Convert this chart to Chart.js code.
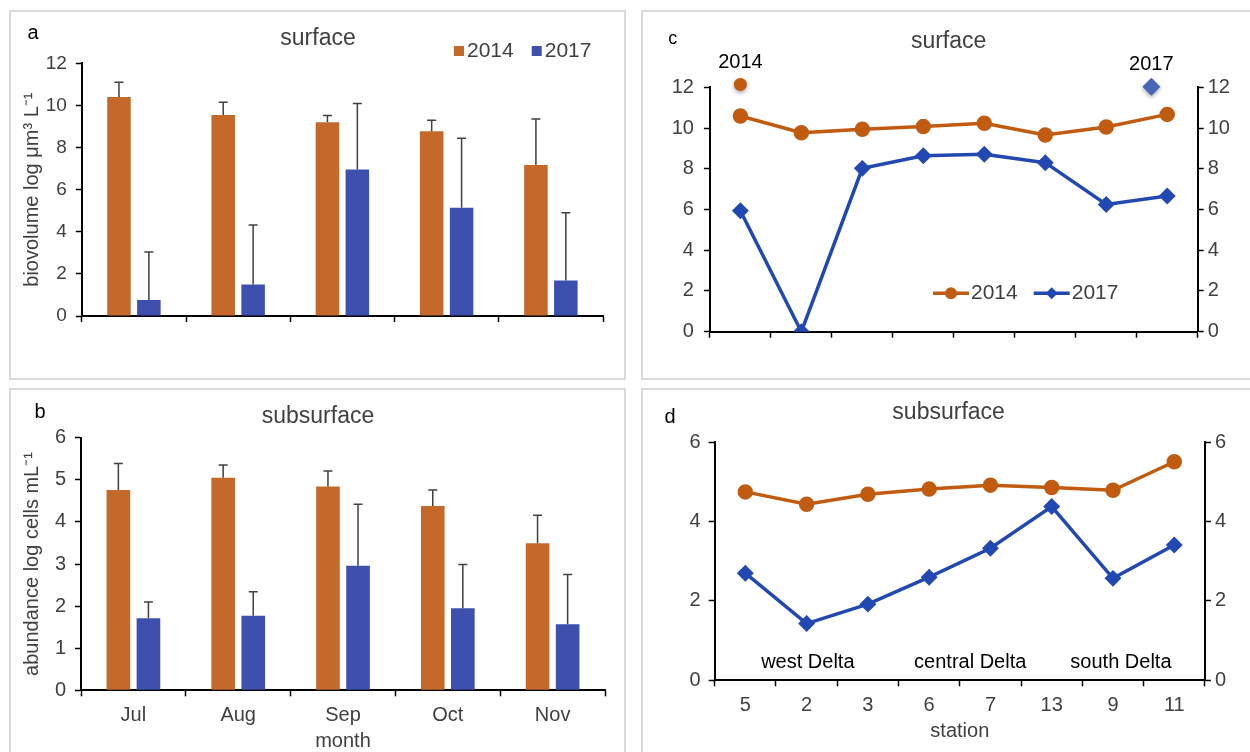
<!DOCTYPE html>
<html>
<head>
<meta charset="utf-8">
<script src="https://cdn.jsdelivr.net/npm/chart.js@4.4.1/dist/chart.umd.min.js"></script>
<style>
  html, body { margin:0; padding:0; background:#fff; width:1250px; height:752px; overflow:hidden; }
  .panel { position:absolute; }
  .panel canvas { position:absolute; left:0; top:0; }
  .frame { position:absolute; left:0; top:0; right:0; bottom:0; border:2px solid #dadada; box-sizing:border-box; pointer-events:none; }
</style>
</head>
<body>
<div class="panel" style="left:9px;top:10px;width:617px;height:370px"><canvas id="ca" width="617" height="370"></canvas><div class="frame"></div></div>
<div class="panel" style="left:641px;top:10px;width:612px;height:370px"><canvas id="cc" width="612" height="370"></canvas><div class="frame"></div></div>
<div class="panel" style="left:9px;top:388px;width:617px;height:368px"><canvas id="cb" width="617" height="368"></canvas><div class="frame"></div></div>
<div class="panel" style="left:641px;top:388px;width:612px;height:368px"><canvas id="cd" width="612" height="368"></canvas><div class="frame"></div></div>
<script>
// ---- data ----
const months = ['Jul', 'Aug', 'Sep', 'Oct', 'Nov'];
const stations = ['5', '2', '3', '6', '7', '13', '9', '11'];
const years = ['2014', '2017'];

// a: surface biovolume by month (mean, upper error)
const bioSurf2014 = [10.4, 9.55, 9.2, 8.77, 7.17];
const bioSurf2014Err = [0.7, 0.6, 0.32, 0.53, 2.18];
const bioSurf2017 = [0.76, 1.5, 6.96, 5.14, 1.69];
const bioSurf2017Err = [2.28, 2.82, 3.13, 3.3, 3.21];

// b: subsurface abundance by month
const abSub2014 = [4.76, 5.05, 4.84, 4.38, 3.49];
const abSub2014Err = [0.63, 0.3, 0.37, 0.38, 0.67];
const abSub2017 = [1.71, 1.77, 2.96, 1.95, 1.57];
const abSub2017Err = [0.39, 0.57, 1.46, 1.04, 1.18];

// c: surface by station
const stSurf2014 = [10.59, 9.77, 9.94, 10.07, 10.23, 9.66, 10.05, 10.67];
const stSurf2017 = [5.94, 0, 8.02, 8.64, 8.71, 8.3, 6.25, 6.66];
// year markers drawn above the plot in c (station index, value)
const yearMarks = [{ year: '2014', station: 0, value: 12.14 }, { year: '2017', station: 6.74, value: 12.03 }];

// d: subsurface by station
const stSub2014 = [4.75, 4.44, 4.69, 4.82, 4.92, 4.86, 4.79, 5.51];
const stSub2017 = [2.7, 1.43, 1.92, 2.6, 3.33, 4.38, 2.57, 3.41];
const regionNames = ['west Delta', 'central Delta', 'south Delta'];
const regionAt = [1.02, 3.67, 6.13];
const regionValue = 0.45;

// ---- styling ----
const FAM = '"Liberation Sans", Arial, sans-serif';
Chart.defaults.font.family = FAM;
const BAR_OR = '#c4692a', BAR_BL = '#3d50ae';
const LINE_OR = '#c05b10', LINE_BL = '#2249b2';
const TXT = '#404040';

function diamond(ctx, x, y, r) {
  ctx.beginPath();
  ctx.moveTo(x, y - r); ctx.lineTo(x + r, y); ctx.lineTo(x, y + r); ctx.lineTo(x - r, y);
  ctx.closePath(); ctx.fill();
}
function circle(ctx, x, y, r) {
  ctx.beginPath(); ctx.arc(x, y, r, 0, Math.PI * 2); ctx.fill();
}

const decor = {
  id: 'decor',
  afterDatasetsDraw(chart) {
    const ctx = chart.ctx;
    chart.data.datasets.forEach((ds, i) => {
      if (!ds.errorBars) return;
      const meta = chart.getDatasetMeta(i);
      const ys = chart.scales[meta.yAxisID];
      ctx.save();
      ctx.strokeStyle = '#404040'; ctx.lineWidth = 1.5;
      meta.data.forEach((bar, j) => {
        const top = ys.getPixelForValue(ds.data[j] + ds.errorBars[j]);
        ctx.beginPath();
        ctx.moveTo(bar.x, bar.y); ctx.lineTo(bar.x, top);
        ctx.moveTo(bar.x - 4.5, top); ctx.lineTo(bar.x + 4.5, top);
        ctx.stroke();
      });
      ctx.restore();
    });
  },
  afterDraw(chart, args, o) {
    const ctx = chart.ctx;
    ctx.save();
    ctx.textBaseline = 'middle';
    (o.texts || []).forEach(t => {
      ctx.font = `${t.size}px ${FAM}`;
      ctx.fillStyle = t.color || TXT;
      ctx.textAlign = t.align || 'center';
      ctx.fillText(t.text, t.x, t.y);
    });
    // legend
    if (o.legend) {
      const L = o.legend;
      let x = L.x;
      ctx.font = `${L.size}px ${FAM}`;
      ctx.textAlign = 'left';
      chart.data.datasets.forEach(ds => {
        const col = ds.backgroundColor;
        if (L.type === 'box') {
          ctx.fillStyle = col;
          ctx.fillRect(x, L.y - 5, 10, 10);
          x += 13;
        } else {
          ctx.strokeStyle = ds.borderColor; ctx.lineWidth = 3.5;
          ctx.beginPath(); ctx.moveTo(x, L.y); ctx.lineTo(x + 36, L.y); ctx.stroke();
          ctx.fillStyle = ds.pointBackgroundColor;
          if (ds.pointStyle === 'rectRot') diamond(ctx, x + 18, L.y, 6); else circle(ctx, x + 18, L.y, 6);
          x += 38;
        }
        ctx.fillStyle = TXT;
        ctx.fillText(ds.label, x, L.y);
        x += ctx.measureText(ds.label).width + L.gap;
      });
    }
    // year markers (panel c)
    if (o.yearMarks) {
      const xs = chart.scales.x, ys = chart.scales.y;
      o.yearMarks.forEach((m, k) => {
        const px = xs.getPixelForValue(m.station), py = ys.getPixelForValue(m.value);
        ctx.save();
        ctx.shadowColor = 'rgba(0,0,0,0.35)'; ctx.shadowBlur = 4; ctx.shadowOffsetY = 2;
        ctx.fillStyle = k === 0 ? '#c05b10' : '#4767b6';
        if (k === 0) circle(ctx, px, py, 6.5); else diamond(ctx, px, py, 9);
        ctx.restore();
        ctx.font = `20px ${FAM}`; ctx.fillStyle = '#000'; ctx.textAlign = 'center';
        ctx.fillText(m.year, px, py - 22);
      });
    }
    // region labels (panel d)
    if (o.regions) {
      const xs = chart.scales.x, ys = chart.scales.y;
      ctx.font = `20px ${FAM}`; ctx.fillStyle = '#000'; ctx.textAlign = 'center';
      regionNames.forEach((n, i) => ctx.fillText(n, xs.getPixelForValue(regionAt[i]), ys.getPixelForValue(regionValue)));
    }
    ctx.restore();
  }
};

function yAxis(max, step, size, pad, width, extra) {
  return Object.assign({
    min: 0, max: max,
    ticks: { stepSize: step, font: { size: size }, color: TXT, padding: pad },
    grid: { drawOnChartArea: false, tickLength: 6, tickColor: '#000', tickWidth: 1.5 },
    border: { color: '#000', width: 2 },
    afterFit: s => { s.width = width; }
  }, extra || {});
}
function xAxis(height, showTicks, title) {
  return {
    offset: true,
    ticks: { display: showTicks, font: { size: 20 }, color: TXT, padding: 7, maxRotation: 0 },
    grid: { drawOnChartArea: false, tickLength: 6, tickColor: '#000', tickWidth: 1.5, offset: true },
    border: { color: '#000', width: 2 },
    title: title ? { display: true, text: title, font: { size: 20 }, color: TXT, padding: { top: 4, bottom: 0 } } : { display: false },
    afterFit: s => { s.height = height; }
  };
}
const base = { responsive: false, animation: false, events: [] };

// a
new Chart(document.getElementById('ca'), {
  type: 'bar',
  data: { labels: months, datasets: [
    { label: years[0], data: bioSurf2014, errorBars: bioSurf2014Err, backgroundColor: BAR_OR },
    { label: years[1], data: bioSurf2017, errorBars: bioSurf2017Err, backgroundColor: BAR_BL }
  ] },
  options: Object.assign({}, base, {
    layout: { padding: { left: 7.6, top: 53.3, right: 23, bottom: 24 } },
    datasets: { bar: { categoryPercentage: 0.574, barPercentage: 0.786 } },
    plugins: { legend: { display: false }, tooltip: { enabled: false },
      decor: {
        texts: [{ text: 'a', x: 24, y: 23.5, size: 20, color: '#000' }, { text: 'surface', x: 309, y: 29, size: 23 }],
        legend: { type: 'box', x: 445, y: 41, size: 21, gap: 18 }
      } },
    scales: {
      x: xAxis(40, false),
      y: yAxis(12, 2, 19, 9, 65.2, { title: { display: true, text: 'biovolume log μm³ L⁻¹', font: { size: 20 }, color: TXT } })
    }
  }),
  plugins: [decor]
});

// b
new Chart(document.getElementById('cb'), {
  type: 'bar',
  data: { labels: months, datasets: [
    { label: years[0], data: abSub2014, errorBars: abSub2014Err, backgroundColor: BAR_OR },
    { label: years[1], data: abSub2017, errorBars: abSub2017Err, backgroundColor: BAR_BL }
  ] },
  options: Object.assign({}, base, {
    layout: { padding: { left: 7.6, top: 49.7, right: 21, bottom: 2.3 } },
    datasets: { bar: { categoryPercentage: 0.574, barPercentage: 0.786 } },
    plugins: { legend: { display: false }, tooltip: { enabled: false },
      decor: { texts: [{ text: 'b', x: 31, y: 24, size: 20, color: '#000' }, { text: 'subsurface', x: 309, y: 28.7, size: 23 }] } },
    scales: {
      x: xAxis(63.4, true, 'month'),
      y: yAxis(6, 1, 20, 9, 64.4, { title: { display: true, text: 'abundance log cells mL⁻¹', font: { size: 20 }, color: TXT } })
    }
  }),
  plugins: [decor]
});

function lineSets(d14, d17) {
  return [
    { label: years[0], data: d14, yAxisID: 'y', borderColor: LINE_OR, backgroundColor: LINE_OR, pointBackgroundColor: LINE_OR,
      pointBorderColor: LINE_OR, borderWidth: 3.5, pointRadius: 6, pointStyle: 'circle', tension: 0 },
    { label: years[1], data: d17, yAxisID: 'y1', borderColor: LINE_BL, backgroundColor: LINE_BL, pointBackgroundColor: LINE_BL,
      pointBorderColor: LINE_BL, borderWidth: 3.5, pointRadius: 6, pointStyle: 'rectRot', tension: 0 }
  ];
}

// c
new Chart(document.getElementById('cc'), {
  type: 'line',
  data: { labels: stations, datasets: lineSets(stSurf2014, stSurf2017) },
  options: Object.assign({}, base, {
    layout: { padding: { left: 0, top: 77.3, right: 0, bottom: 18.3 } },
    plugins: { legend: { display: false }, tooltip: { enabled: false },
      decor: {
        texts: [{ text: 'c', x: 31.7, y: 29.5, size: 18, color: '#000' }, { text: 'surface', x: 307.6, y: 32, size: 23 }],
        legend: { type: 'line', x: 292, y: 283.3, size: 21, gap: 16 },
        yearMarks: yearMarks
      } },
    scales: {
      x: xAxis(30, false),
      y: yAxis(12, 2, 20, 10, 68.9),
      y1: yAxis(12, 2, 20, 4, 55.3, { position: 'right' })
    }
  }),
  plugins: [decor]
});

// d
new Chart(document.getElementById('cd'), {
  type: 'line',
  data: { labels: stations, datasets: lineSets(stSub2014, stSub2017) },
  options: Object.assign({}, base, {
    layout: { padding: { left: 0, top: 54.3, right: 0, bottom: 12.3 } },
    plugins: { legend: { display: false }, tooltip: { enabled: false },
      decor: {
        texts: [{ text: 'd', x: 29, y: 29.5, size: 20, color: '#000' }, { text: 'subsurface', x: 307.6, y: 25, size: 23 }],
        regions: true
      } },
    scales: {
      x: xAxis(63.4, true, 'station'),
      y: yAxis(6, 2, 20, 8, 73.7),
      y1: yAxis(6, 2, 20, 4, 48.1, { position: 'right' })
    }
  }),
  plugins: [decor]
});
</script>
</body>
</html>
